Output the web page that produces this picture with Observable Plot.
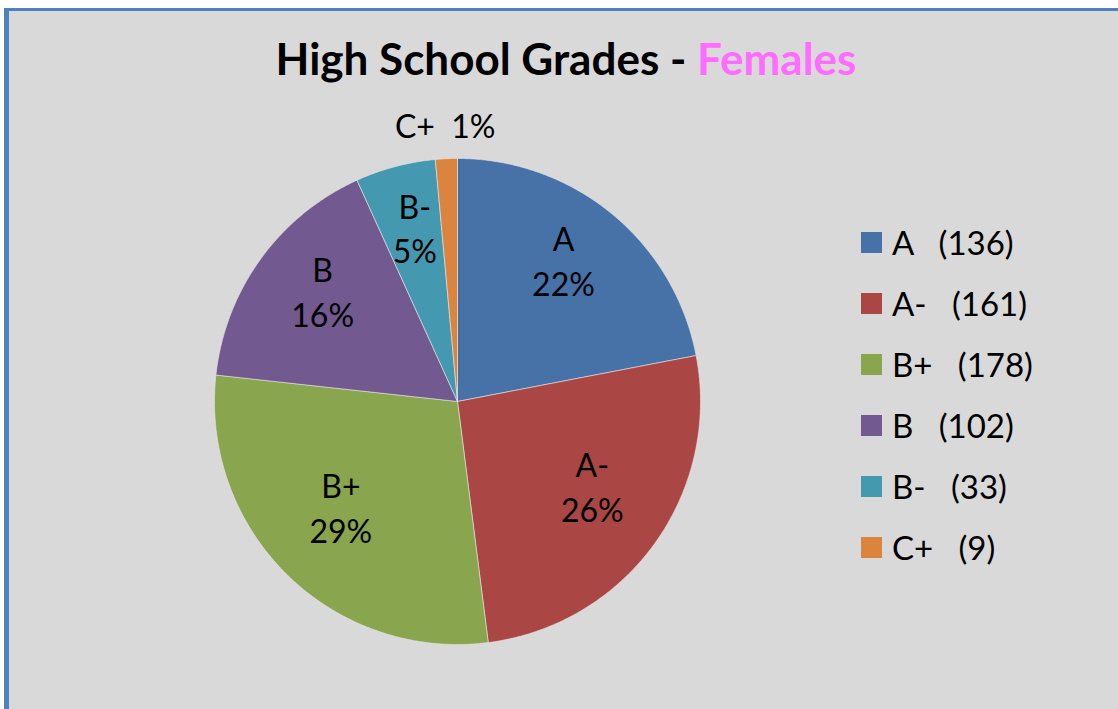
<!DOCTYPE html>
<html>
<head>
<meta charset="utf-8">
<script src="https://cdn.jsdelivr.net/npm/d3@7"></script>
<script src="https://cdn.jsdelivr.net/npm/@observablehq/plot@0.6"></script>
<style>
  html, body { margin: 0; padding: 0; background: #ffffff; overflow: hidden; width: 1118px; height: 709px; }
  #frame { position: absolute; left: 4px; top: 8px; width: 1200px; height: 800px; background: #d9d9d9;
           border-left: 5px solid #4f81bd; border-top: 3px solid #4f81bd; box-sizing: border-box; }
  #title { position: absolute; left: 0; width: 1132px; top: 32px; text-align: center;
           font-family: Lato, "Open Sans", sans-serif; font-weight: bold; font-size: 44px; line-height: 52px; color: #000; white-space: pre; }
  #title .hl { color: #ff6cff; }
  #chart { position: absolute; left: 157px; top: 101px; }
  #legend { position: absolute; left: 861px; top: 232px; font-family: Lato, "Open Sans", sans-serif; font-size: 33px; color: #000; }
  .row { position: relative; height: 61px; }
  .sw { position: absolute; left: 0; top: 0; width: 21px; height: 21px; }
  .lt { position: absolute; left: 31px; top: -9px; line-height: 38px; white-space: pre; }
</style>
</head>
<body>
<div id="frame"></div>
<div id="title">High School Grades - <span class="hl">Females</span></div>
<div id="chart"></div>
<div id="legend"></div>
<script>
const grades = ["A", "A-", "B+", "B", "B-", "C+"];
const counts = [136, 161, 178, 102, 33, 9];
const colors = ["#4672a8", "#aa4744", "#89a54e", "#72598f", "#4499b0", "#db843d"];

const data = grades.map((g, i) => ({grade: g, value: counts[i]}));
const total = d3.sum(counts);
const arcs = d3.pie().sort(null).value(d => d.value)(data);

// polygon outline of each slice (angle measured clockwise from 12 o'clock)
const pts = [];
for (const a of arcs) {
  const g = a.data.grade;
  pts.push({grade: g, x: 0, y: 0});
  const n = Math.max(2, Math.ceil((a.endAngle - a.startAngle) / 0.005));
  for (let k = 0; k <= n; k++) {
    const t = a.startAngle + (a.endAngle - a.startAngle) * k / n;
    pts.push({grade: g, x: Math.sin(t), y: Math.cos(t)});
  }
  pts.push({grade: g, x: 0, y: 0});
}

const labels = arcs.map(a => {
  const mid = (a.startAngle + a.endAngle) / 2;
  const pct = Math.round(a.data.value / total * 100);
  const inside = a.data.value / total > 0.02;
  const r = inside ? 0.685 : 1.107;
  return {
    grade: a.data.grade,
    inside,
    x: Math.sin(mid) * r,
    y: Math.cos(mid) * r,
    text: inside ? `${a.data.grade}\n${pct}%` : `${a.data.grade}  ${pct}%`
  };
});

const S = 600, lim = S / 2 / 243;
const font = "Lato, 'Open Sans', sans-serif";
const plot = Plot.plot({
  width: S, height: S,
  margin: 0,
  x: {domain: [-lim, lim], axis: null},
  y: {domain: [-lim, lim], axis: null},
  color: {domain: grades, range: colors},
  style: {background: "transparent", overflow: "visible"},
  marks: [
    Plot.line(pts, {x: "x", y: "y", z: "grade", fill: "grade", stroke: "#e8e8e8", strokeWidth: 0.6, curve: "linear"}),
    Plot.text(labels.filter(d => d.inside), {x: "x", y: "y", text: "text", fill: "#000", fontSize: 32, lineHeight: 1.4,
      dy: -14, fontFamily: font}),
    Plot.text(labels.filter(d => !d.inside), {x: "x", y: "y", text: "text", fill: "#000", fontSize: 32,
      dy: -5, fontFamily: font})
  ]
});
document.getElementById("chart").appendChild(plot);

const legend = document.getElementById("legend");
grades.forEach((g, i) => {
  const row = document.createElement("div");
  row.className = "row";
  const sw = document.createElement("div");
  sw.className = "sw";
  sw.style.background = colors[i];
  const lt = document.createElement("div");
  lt.className = "lt";
  lt.textContent = `${g}   (${counts[i]})`;
  row.appendChild(sw); row.appendChild(lt);
  legend.appendChild(row);
});
</script>
</body>
</html>
